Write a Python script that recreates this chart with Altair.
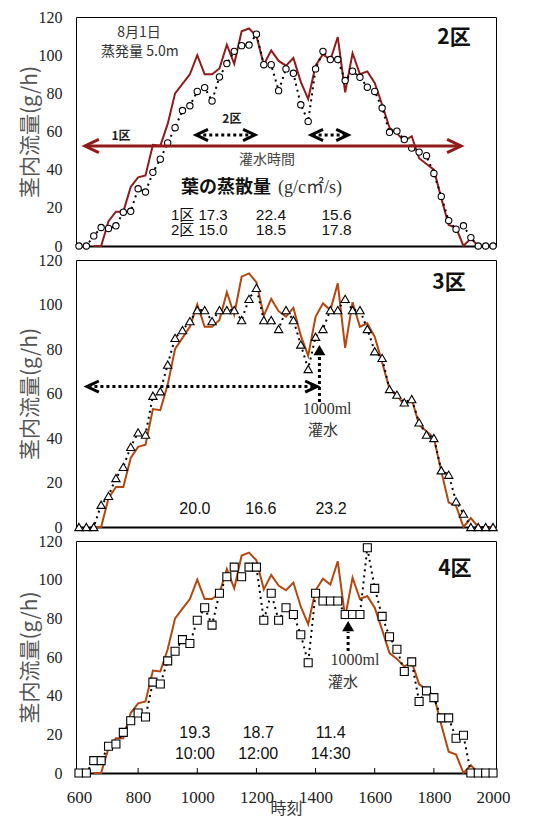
import altair as alt
import pandas as pd

# ---------------- data ----------------
time_x = [600, 625, 650, 675, 700, 725, 750, 775, 800, 825, 850, 875, 900, 925, 950, 975,
          1000, 1025, 1050, 1075, 1100, 1125, 1150, 1175, 1200, 1225, 1250, 1275, 1300, 1325, 1350, 1375,
          1400, 1425, 1450, 1475, 1500, 1525, 1550, 1575, 1600, 1625, 1650, 1675, 1700, 1725, 1750, 1775,
          1800, 1825, 1850, 1875, 1900, 1925, 1950, 1975, 2000]

# 1区 (reference line, same in every panel)
ku1 = [None, None, 0, 0, 13, 18, 18, 31, 36, 37,
       53, 52.5, 64, 80, 85, 90, 100, 90, 90, 93,
       105.5, 95.5, 112.5, 114, 110, 95, 102.5, 97, 94.5, 98.5,
       86, 77, 94.5, 100.5, 97.5, 109.5, 80.5, 101, 90, 91.5,
       85.5, 74, 62, 59, 55, 57.5, 46, 43, 40, 25,
       11, 9.5, 0, 4, 0, 0, 0]

ku2 = [0, 0, 5.3, 9.7, 9.2, 10.6, 17.7, 18.2, 30, 28.3,
       38.6, 45.5, 54, 62, 71, 73.5, 81, 83, 76, 88.6,
       95.6, 102, 105, 105.3, 111, 95, 95, 81.4, 92.8, 90.5,
       74, 65.3, 92.8, 102, 97.7, 97.7, 86.7, 91.6, 88.4, 83.2,
       81, 72.3, 59.6, 60.2, 55.8, 51.3, 49.2, 47.3, 38, 26,
       13.3, 8.8, 10.6, 4.4, 0, 0, 0]

ku3 = [0, 0, 0, 10, 14, 22, 27, 36, 42.5, 41.5,
       59, 61, 73, 85, 88.5, 92.5, 97.5, 97.5, 92.5, 97.5,
       97.5, 97.5, 93, 102.5, 107.5, 93, 93, 89, 97.5, 93,
       82, 71, 85.5, 89, 97.5, 97.5, 102.5, 97.5, 97.5, 89,
       79, 76, 62, 59.5, 56, 57.5, 47, 41.5, 40, 25.5,
       23.5, 11.5, 6, 0, 0, 0, 0]

ku4 = [0, 0, 6.4, 6.4, 13.8, 15, 21, 27, 31, 29,
       47, 46, 58, 63, 69, 67, 79, 85.5, 76.5, 93,
       101.5, 106.5, 101.5, 106.5, 106.5, 79, 93, 79, 85.5, 82,
       71.5, 57, 93, 89, 89, 89, 82, 82, 82, 116.5,
       95.5, 81, 70.5, 64, 52.5, 57.5, 37, 42.5, 39, 28.5,
       28.5, 18, 19.5, 0, 0, 0, 0]

x_ticks = [600, 800, 1000, 1200, 1400, 1600, 1800, 2000]
inner_ticks = [800, 1000, 1200, 1400, 1600, 1800]
y_ticks = [0, 20, 40, 60, 80, 100, 120]

JP = "Noto Sans CJK JP"
SERIF = "Liberation Serif, Times New Roman, serif"
SANS = "Liberation Sans, Arial, sans-serif"
SANS_JP = "Liberation Sans, Noto Sans CJK JP"
RED1 = "#8F1B1B"
BROWN = "#B4470F"
W = 420


def xenc(show):
    if show:
        ax = alt.Axis(values=x_ticks, format="d", labelFont=SERIF, labelFontSize=17,
                      labelColor="#222", labelFlush=False, tickSize=0, labelPadding=16,
                      domainColor="black", domainWidth=2, grid=False, title="時刻",
                      titleFont=JP, titleFontSize=16, titleFontWeight="normal",
                      titleColor="#333", titlePadding=-5)
    else:
        ax = alt.Axis(labels=False, ticks=False, title=None, domainColor="black",
                      domainWidth=2, grid=False)
    return alt.X("t:Q", scale=alt.Scale(domain=[590, 2010], nice=False, zero=False), axis=ax)


def yenc(field="v"):
    ax = alt.Axis(values=y_ticks, labelFont=SERIF, labelFontSize=16, labelColor="#222",
                  tickSize=0, domain=False, grid=False, labelPadding=14,
                  title="茎内流量(g/h)", titleFont=JP, titleFontSize=21,
                  titleFontWeight="normal", titleColor="#555", titlePadding=-2)
    return alt.Y(field + ":Q", scale=alt.Scale(domain=[0, 120], nice=False, zero=False), axis=ax)


def texts(X, Y, rows, **kw):
    df = pd.DataFrame(rows, columns=["t", "v", "s"])
    return alt.Chart(df).mark_text(**kw).encode(x=X, y=Y, text="s:N")


def hrule(X, Y, x1, x2, y, **kw):
    df = pd.DataFrame({"t": [x1], "t2": [x2], "v": [y]})
    return alt.Chart(df).mark_rule(**kw).encode(x=X, x2="t2:Q", y=Y)


def vrule(X, Y, x, y1, y2, **kw):
    df = pd.DataFrame({"t": [x], "v": [y1], "v2": [y2]})
    return alt.Chart(df).mark_rule(**kw).encode(x=X, y=Y, y2="v2:Q")


def head(X, Y, x, y, shape, size, color, filled=False, sw=3):
    df = pd.DataFrame({"t": [x], "v": [y]})
    if filled:
        m = alt.Chart(df).mark_point(shape=shape, size=size, filled=True, color=color,
                                     opacity=1, strokeWidth=0)
    else:
        m = alt.Chart(df).mark_point(shape=shape, size=size, filled=False, color=color,
                                     opacity=1, strokeWidth=sw, strokeJoin="miter")
    return m.encode(x=X, y=Y)


LEFT = "M1.7,-0.8L0,0L1.7,0.8"
RIGHT = "M-1.7,-0.8L0,0L-1.7,0.8"
RLEFT = "M2,-0.95L0,0L2,0.95"
RRIGHT = "M-2,-0.95L0,0L-2,0.95"
UPTRI = "M0,0L-1,1.7L1,1.7Z"


def base_panel(series, shape, size, line_color, show_x):
    X = xenc(show_x)
    Y = yenc()
    df = pd.DataFrame({"t": time_x, "ref": ku1, "v": series})
    dref = df.dropna(subset=["ref"])
    line = alt.Chart(dref).mark_line(color=line_color, strokeWidth=2).encode(x=X, y=yenc("ref"))
    dots = alt.Chart(df).mark_line(color="black", strokeWidth=2, strokeDash=[2, 4]).encode(x=X, y=Y)
    pts = alt.Chart(df).mark_point(shape=shape, size=size, filled=True, fill="white",
                                   stroke="black", strokeWidth=1.1, opacity=1).encode(x=X, y=Y)
    return X, Y, [line, dots, pts]


# ---------------- panel 1 (2区) ----------------
X, Y, L = base_panel(ku2, "circle", 40, RED1, False)
L += [
    hrule(X, Y, 622, 1890, 52.4, color=RED1, strokeWidth=3),
    head(X, Y, 620, 52.4, RLEFT, 196, RED1, sw=3),
    head(X, Y, 1892, 52.4, RRIGHT, 196, RED1, sw=3),
    hrule(X, Y, 1000, 1192, 58.2, color="black", strokeWidth=3, strokeDash=[3, 3]),
    head(X, Y, 996, 58.2, LEFT, 196, "black"),
    head(X, Y, 1195, 58.2, RIGHT, 196, "black"),
    hrule(X, Y, 1390, 1506, 58.2, color="black", strokeWidth=3, strokeDash=[3, 3]),
    head(X, Y, 1385, 58.2, LEFT, 196, "black"),
    head(X, Y, 1510, 58.2, RIGHT, 196, "black"),
    texts(X, Y, [[803, 111.8, "8月1日"], [806, 101.6, "蒸発量 5.0m"]],
          font=JP, fontSize=14, color="#333", align="center", baseline="middle"),
    texts(X, Y, [[1868, 109, "2区"]], font=JP, fontSize=21, fontWeight="bold",
          color="#111", align="center", baseline="middle"),
    texts(X, Y, [[742, 57.7, "1区"], [1117, 66.6, "2区"]], font=JP, fontSize=12,
          fontWeight="bold", color="#222", align="center", baseline="middle"),
    texts(X, Y, [[1236, 45, "灌水時間"]], font=JP, fontSize=14, color="#444",
          align="center", baseline="middle"),
    texts(X, Y, [[945, 30.4, "葉の蒸散量"]], font=JP, fontSize=18, fontWeight="bold",
          color="#111", align="left", baseline="middle"),
    texts(X, Y, [[1273, 30.4, "(g/c㎡/s)"]], font="Liberation Serif, " + JP, fontSize=18,
          color="#333", align="left", baseline="middle"),
    texts(X, Y, [[911, 16.5, "1区 17.3"], [911, 8.2, "2区 15.0"]], font=SANS_JP, fontSize=15,
          color="#111", align="left", baseline="middle"),
    texts(X, Y, [[1249, 16.5, "22.4"], [1471, 16.5, "15.6"],
                 [1249, 8.2, "18.5"], [1471, 8.2, "17.8"]],
          font=SANS, fontSize=15.5, color="#111", align="center", baseline="middle"),
]
p1 = alt.layer(*L).properties(width=W, height=229)

# ---------------- panel 2 (3区) ----------------
X, Y, L = base_panel(ku3, "triangle-up", 70, BROWN, False)
L += [
    hrule(X, Y, 632, 1400, 63.1, color="black", strokeWidth=3, strokeDash=[3, 3]),
    head(X, Y, 627, 63.1, LEFT, 196, "black"),
    head(X, Y, 1405, 63.1, RIGHT, 196, "black"),
    vrule(X, Y, 1413, 56.2, 77.3, color="black", strokeWidth=3, strokeDash=[3, 3]),
    head(X, Y, 1413, 81.8, UPTRI, 144, "black", filled=True),
    texts(X, Y, [[1851, 109.7, "3区"]], font=JP, fontSize=21, fontWeight="bold",
          color="#111", align="center", baseline="middle"),
    texts(X, Y, [[1439, 53.0, "1000ml"]], font=SERIF, fontSize=16, color="#333",
          align="center", baseline="middle"),
    texts(X, Y, [[1425, 43.8, "灌水"]], font=JP, fontSize=15, color="#333",
          align="center", baseline="middle"),
    texts(X, Y, [[992, 8.3, "20.0"], [1215, 8.3, "16.6"], [1452, 8.3, "23.2"]],
          font=SANS, fontSize=16, color="#111", align="center", baseline="middle"),
]
p2 = alt.layer(*L).properties(width=W, height=267)

# ---------------- panel 3 (4区) ----------------
X, Y, L = base_panel(ku4, "square", 64, BROWN, True)
tick_df = pd.DataFrame({"t": inner_ticks, "v": [0] * len(inner_ticks), "v2": [2.6] * len(inner_ticks)})
L += [
    alt.Chart(tick_df).mark_rule(color="black", strokeWidth=1).encode(x=X, y=Y, y2="v2:Q"),
    vrule(X, Y, 1510, 63.1, 73.0, color="black", strokeWidth=3, strokeDash=[3, 3]),
    head(X, Y, 1510, 78.6, UPTRI, 144, "black", filled=True),
    texts(X, Y, [[1871, 105.3, "4区"]], font=JP, fontSize=21, fontWeight="bold",
          color="#111", align="center", baseline="middle"),
    texts(X, Y, [[1533, 58.6, "1000ml"]], font=SERIF, fontSize=16, color="#333",
          align="center", baseline="middle"),
    texts(X, Y, [[1493, 47.3, "灌水"]], font=JP, fontSize=15, color="#333",
          align="center", baseline="middle"),
    texts(X, Y, [[992, 20.6, "19.3"], [1206, 20.6, "18.7"], [1451, 20.6, "11.4"],
                 [992, 10.0, "10:00"], [1206, 10.0, "12:00"], [1451, 10.0, "14:30"]],
          font=SANS, fontSize=16, color="#111", align="center", baseline="middle"),
]
p3 = alt.layer(*L).properties(width=W, height=232)

chart = alt.vconcat(p1, p2, p3, spacing=14, bounds="flush").properties(
    padding={"left": 10, "top": 0, "right": 5, "bottom": 5}
).configure_view(stroke="black", strokeWidth=1)

chart.save("out.html", embed_options={"renderer": "svg", "actions": False})
